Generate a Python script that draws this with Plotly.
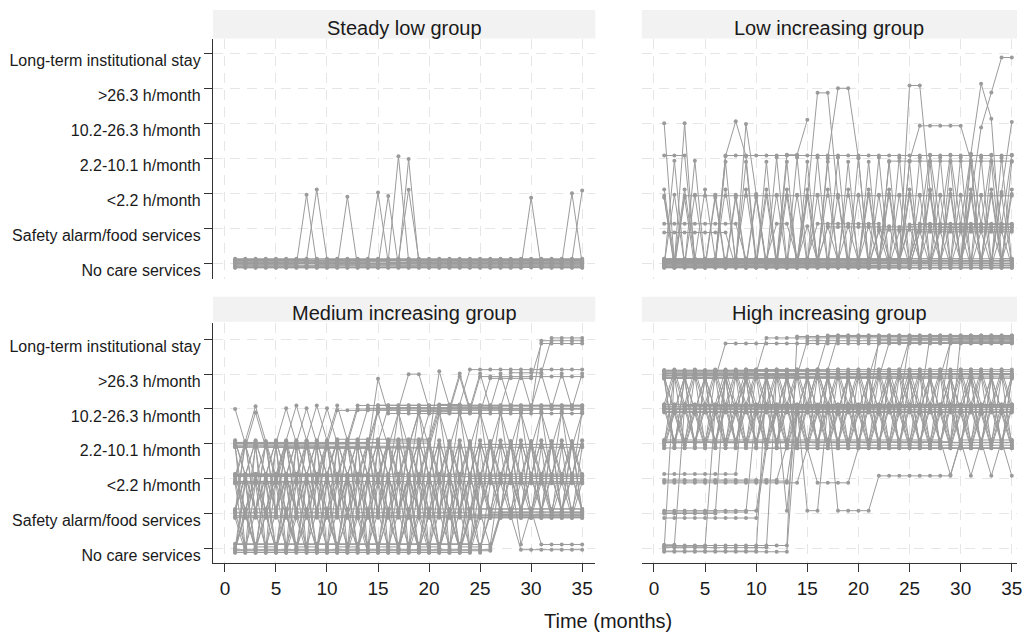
import plotly.graph_objects as go

# ---------------- data ----------------
CATEGORIES = ["No care services", "Safety alarm/food services", "<2.2 h/month",
              "2.2-10.1 h/month", "10.2-26.3 h/month", ">26.3 h/month",
              "Long-term institutional stay"]
LEVELS = [0, 1, 2, 3, 4, 5, 6]
MONTHS = list(range(1, 36))
X_TICKS = [0, 5, 10, 15, 20, 25, 30, 35]
PANEL_TITLES = ["Steady low group", "Low increasing group",
                "Medium increasing group", "High increasing group"]

# one string per person, one character per month (1..35), level index 0..6, '-' = missing
STEADY_LOW = [
    "00000 00000 00000 00000 00000 00000 00000",
    "00000 00000 00000 00000 00000 00000 00000",
    "00000 00000 00000 00000 00000 00000 00000",
    "00000 00000 00000 00000 00000 00000 00000",
    "00000 00000 00000 00000 00000 00000 00000",
    "00000 00000 00000 00000 00000 00000 00000",
    "00000 00200 00000 00000 00000 00000 00000",
    "00000 00020 00000 00000 00000 00000 00000",
    "00000 00000 02000 00000 00000 00000 00000",
    "00000 00000 00002 00000 00000 00000 00000",
    "00000 00000 00000 20000 00000 00000 00000",
    "00000 00000 00000 03000 00000 00000 00000",
    "00000 00000 00000 00300 00000 00000 00000",
    "00000 00000 00000 00200 00000 00000 00000",
    "00000 00000 00000 00000 00000 00002 00000",
    "00000 00000 00000 00000 00000 00000 00020",
    "00000 00000 00000 00000 00000 00000 00002",
]

LOW_INCREASING = [
    "40400 00000 00000 00000 00000 00000 00000",
    "33300 03333 33333 33333 33333 33333 33333",
    "20222 22222 22222 22222 22222 22222 22222",
    "11111 11100 01100 11111 11000 11111 11111",
    "11111 11000 00000 00000 00000 00000 00000",
    "00000 00000 00000 01111 11111 11111 11111",
    "00000 00000 00000 00000 01111 11111 11111",
    "00000 00000 00000 00000 00001 11111 11111",
    "00000 00000 00000 00000 00000 11111 11111",
    "00000 00000 00000 00000 00000 00111 11111",
    "00000 00000 00000 00000 00333 33333 33333",
    "00000 03430 00000 00000 00000 00000 00000",
    "00000 00042 00000 00000 00000 00000 00000",
    "00000 00000 00334 ----- ----- ----- -----",
    "00000 00000 00002 55200 00000 00000 00000",
    "00000 00000 00000 03553 00000 00000 00000",
    "00000 00000 00000 00000 00005 52000 00000",
    "00000 00000 00000 00000 00003 44444 30000",
    "00000 00000 00000 00000 00000 00000 35400",
    "00000 00000 00000 00000 00000 00000 24566",
    "00000 00000 00000 00000 00000 00000 00024",
    "02020 20202 02020 20202 02020 20202 02020",
    "20202 02020 20202 02020 20202 02020 20202",
    "00000 03030 30303 03030 30303 03030 30303",
    "00000 00000 03030 30303 03030 30303 03030",
    "00000 00000 00000 00000 01010 10101 01010",
    "00000 00000 00001 01010 10101 01010 10101",
    "00000 00000 00000 00000 20202 02020 20202",
    "00000 00000 00000 00000 00000 13131 31313",
    "20200 20202 00000 00000 00000 00000 00000",
    "00000 00000 00000 00000 00000 00000 00000",
    "00000 00000 00000 00000 00000 00000 00000",
    "03030 00000 20202 00000 00000 00000 00000",
    "00000 00000 00000 00000 00000 00000 00000",
]

MEDIUM_INCREASING = [
    "43333 33333 33444 44444 44444 44444 44444",
    "23432 32323 23232 32323 23232 32323 23232",
    "11111 11111 11111 11111 11111 11111 11111",
    "11111 11111 11111 11111 11111 11111 11111",
    "11111 11111 11111 11111 11111 11111 11111",
    "10101 01010 10101 01010 10101 01111 11111",
    "01010 10101 01010 10101 01011 11111 11111",
    "12121 21212 12121 21212 12121 21212 12121",
    "21212 12121 21212 12121 21212 12121 21212",
    "11111 21111 12111 11211 11112 11111 21111",
    "22222 22222 22222 22222 22222 22222 22222",
    "22222 22222 22222 22222 22222 22222 22222",
    "23232 32323 23232 32323 23232 32323 23232",
    "32323 23232 32323 23232 32323 23232 32323",
    "20202 02020 20202 02020 20202 22222 22222",
    "02020 20202 02020 20202 02022 22222 22222",
    "21212 22222 12222 21222 22122 22212 22222",
    "00000 00000 00000 00000 00000 01111 11111",
    "00000 00000 00000 00000 00001 11111 11111",
    "00000 00000 00000 00000 00011 11111 11111",
    "01000 10001 00010 00100 01000 11111 11111",
    "00000 00000 00000 00000 00000 01100 00000",
    "00000 00000 00000 00000 00000 02201 00000",
    "33433 33333 33333 33333 33333 33333 33333",
    "33333 43434 33344 44444 44444 44444 44444",
    "31313 13131 31313 13131 31313 13131 31313",
    "13131 31313 13131 31313 13131 31313 13131",
    "30303 03030 30303 03030 30303 33333 33333",
    "22222 34343 43444 44444 44444 44444 44444",
    "22222 33333 33335 44444 44444 44444 44444",
    "33333 33333 33334 44554 44444 44444 44444",
    "22222 22222 22222 33333 54444 44444 44444",
    "33333 33333 33333 33344 44545 55555 55555",
    "22222 22222 33333 33333 44455 55555 55555",
    "22222 22223 33333 33334 44444 55555 66666",
    "33333 33333 33333 44444 44444 44555 56666",
    "33333 33333 44444 44444 44444 44444 66666",
    "22222 22222 22224 44444 44444 44444 44444",
    "33333 33333 33334 34343 43434 34343 43434",
    "33333 33333 33333 33333 44545 45454 54545",
    "22222 22222 22222 24242 42424 24242 42424",
    "12121 21212 12121 21212 12121 21212 12121",
    "01010 10101 01010 10101 01010 11111 11111",
    "21212 12121 21212 12121 21212 12121 21212",
    "02020 20202 02020 20202 02020 22222 22222",
    "13131 31313 13131 31313 13131 31313 13131",
    "32323 23232 32323 23232 32323 23232 32323",
    "11111 11111 11111 11111 11111 11111 11111",
    "22222 22222 22222 22222 22222 22222 22222",
    "10000 01000 00100 00010 00001 11111 11111",
]

HIGH_INCREASING = [
    "55555 55555 55555 55555 55555 55555 55555",
    "55555 55555 55555 55555 55555 55555 55555",
    "54545 45454 54545 45454 54545 45454 54545",
    "45454 54545 45454 54545 45454 54545 45454",
    "55555 56666 66666 66666 66666 66666 66666",
    "55555 55555 66666 66666 66666 66666 66666",
    "55555 55555 55556 66666 66666 66666 66666",
    "55555 55555 55555 55666 66666 66666 66666",
    "55555 55555 55555 55555 55666 66666 66666",
    "55555 55555 55555 55555 55556 66666 66666",
    "53535 35353 53535 35353 53535 35353 53535",
    "44444 44444 44444 44444 44444 44444 44444",
    "44444 44444 44444 44444 44444 44444 44444",
    "43434 34343 43434 34343 43434 34343 43434",
    "34343 43434 34343 43434 34343 43434 34343",
    "44444 44444 44444 44444 46666 66666 66666",
    "44444 44444 44444 44444 44444 46666 66666",
    "44444 44444 44444 44444 44444 44466 66666",
    "44444 45454 44444 54444 44545 44444 54444",
    "33333 33333 33333 33333 33333 33333 33333",
    "33333 33333 33333 33333 33333 33333 33333",
    "35353 53535 35353 53535 35353 53535 35353",
    "33333 33333 33333 33333 33333 33323 33333",
    "00000 00000 00044 44444 44444 44444 44444",
    "00000 00000 05555 55555 55555 55555 55555",
    "00000 00000 55555 55555 55555 55555 55555",
    "00000 44444 44444 44444 44444 44444 44444",
    "05555 55555 55555 55555 55555 55555 55555",
    "00444 44444 44444 44444 44444 44444 44444",
    "11111 11111 33333 33333 33333 33333 33333",
    "11111 15555 55555 55555 55555 55555 55555",
    "11111 11111 34141 14111 12222 22223 23232",
    "22222 22222 22244 44444 44444 44444 44444",
    "22222 22255 55555 55555 55555 55555 55555",
    "22222 22222 22223 22223 33333 33333 33333",
    "11111 11114 44444 44444 44444 44444 44444",
    "22222 22222 22333 33333 33333 33333 33333",
    "55555 55555 55555 56666 66666 66666 66666",
    "44444 44444 44444 44455 56666 66666 66666",
    "44444 44444 44444 44444 44446 66666 66666",
    "55555 55555 55555 55555 55555 55566 66666",
    "33333 33333 33333 33333 33333 33336 66666",
    "45454 54545 45454 54545 45454 54545 45454",
    "34343 43434 34343 43434 34343 43434 34343",
    "53535 35353 53535 35353 53535 35353 53535",
    "43434 34343 43434 34343 43434 34343 43434",
    "00000 00000 00066 66666 66666 66666 66666",
    "54545 45454 54545 45454 54545 45454 54545",
    "44444 44444 44444 44444 44444 44444 44444",
    "55555 55555 55555 55555 55555 55555 55555",
    "33333 33333 33333 33333 33333 33333 33333",
    "34343 43434 34343 43434 34343 43434 34343",
]

# small vertical jitter per person (level units), applied cyclically
JITTER = [0.00, 0.08, -0.07, 0.13, -0.12, 0.04, -0.04, 0.11, -0.10, 0.02,
          -0.08, 0.06, -0.02, 0.10, -0.13]

GROUPS = [STEADY_LOW, LOW_INCREASING, MEDIUM_INCREASING, HIGH_INCREASING]

# ---------------- figure ----------------
W, H = 1022, 635
ML, MR, MT, MB = 213, 0, 39, 72
PW, PH = W - ML - MR, H - MT - MB

def px_x(p):
    return (p - ML) / PW

def px_y(p):
    return (H - MB - p) / PH

LINE_COLOR = "#9b9b9b"
GRID = "#e6e6e6"
AXIS = "#333333"
FONT = "Liberation Sans, Arial, sans-serif"

fig = go.Figure()

for gi, group in enumerate(GROUPS):
    xs, ys = [], []
    for pi, seq in enumerate(group):
        s = seq.replace(" ", "")
        if len(s) != len(MONTHS):
            raise ValueError(f"group {gi} person {pi} has {len(s)} months")
        j = JITTER[pi % len(JITTER)]
        for m, ch in zip(MONTHS, s):
            xs.append(m)
            ys.append(None if ch == "-" else LEVELS[int(ch)] + j)
        xs.append(None)
        ys.append(None)
    suffix = "" if gi == 0 else str(gi + 1)
    fig.add_trace(go.Scatter(
        x=xs, y=ys, mode="lines+markers",
        line=dict(color=LINE_COLOR, width=1),
        marker=dict(color=LINE_COLOR, size=4),
        connectgaps=False, showlegend=False, hoverinfo="skip",
        xaxis="x" + suffix, yaxis="y" + suffix,
    ))

xl_dom = [0, px_x(597.7)]
xr_dom = [px_x(644.5), 1]
yt_dom = [px_y(279.3), 1]
yb_dom = [0, px_y(322.7)]
xl_rng = [-1.168, 36.29]
xr_rng = [-1.186, 35.51]
yt_rng = [-0.457, 6.409]
yb_rng = [-0.422, 6.477]

grid_common = dict(showgrid=True, gridcolor=GRID, gridwidth=1, griddash="10px,7px",
                   zeroline=False)

def xaxis(domain, rng, anchor, bottom):
    d = dict(domain=domain, range=rng, anchor=anchor, tickvals=X_TICKS,
             ticktext=[str(t) for t in X_TICKS], **grid_common)
    if bottom:
        d.update(showline=True, linecolor=AXIS, linewidth=1.3, ticks="outside",
                 ticklen=8, tickwidth=1.3, tickcolor=AXIS, showticklabels=True,
                 ticklabeloverflow="allow",
                 tickfont=dict(size=19, color="#1a1a1a", family=FONT))
    else:
        d.update(showline=False, ticks="", showticklabels=False)
    return d

def yaxis(domain, rng, anchor, left):
    d = dict(domain=domain, range=rng, anchor=anchor, tickvals=LEVELS,
             ticktext=CATEGORIES, **grid_common)
    if left:
        d.update(showline=True, linecolor=AXIS, linewidth=1.3, ticks="outside",
                 ticklen=8, tickwidth=1.3, tickcolor=AXIS, showticklabels=True,
                 ticklabelshift=7,
                 tickfont=dict(size=16, color="#1a1a1a", family=FONT))
    else:
        d.update(showline=False, ticks="", showticklabels=False)
    return d

fig.update_layout(
    width=W, height=H, autosize=False,
    margin=dict(l=ML, r=MR, t=MT, b=MB, pad=0),
    paper_bgcolor="white", plot_bgcolor="white",
    font=dict(family=FONT, color="#1a1a1a"),
    xaxis=xaxis(xl_dom, xl_rng, "y", False),
    yaxis=yaxis(yt_dom, yt_rng, "x", True),
    xaxis2=xaxis(xr_dom, xr_rng, "y2", False),
    yaxis2=yaxis(yt_dom, yt_rng, "x2", False),
    xaxis3=xaxis(xl_dom, xl_rng, "y3", True),
    yaxis3=yaxis(yb_dom, yb_rng, "x3", True),
    xaxis4=xaxis(xr_dom, xr_rng, "y4", True),
    yaxis4=yaxis(yb_dom, yb_rng, "x4", False),
)

strips = [
    (xl_dom, (10, 38.5)),
    (xr_dom, (10, 38.5)),
    (xl_dom, (296.7, 321.7)),
    (xr_dom, (296.7, 321.7)),
]
shapes = []
annotations = []
for (dom, (top, bot)), title in zip(strips, PANEL_TITLES):
    shapes.append(dict(type="rect", xref="paper", yref="paper",
                       x0=dom[0], x1=dom[1], y0=px_y(bot), y1=px_y(top),
                       fillcolor="#f2f2f2", line=dict(width=0), layer="below"))
    annotations.append(dict(text=title, xref="paper", yref="paper",
                            x=(dom[0] + dom[1]) / 2 if dom[1] < 1 else px_x((644.5 + 1022) / 2),
                            y=px_y((top + bot) / 2 + 3.5), xanchor="center", yanchor="middle",
                            showarrow=False, font=dict(size=20, color="#1a1a1a", family=FONT)))

annotations.append(dict(text="Time (months)", xref="paper", yref="paper",
                        x=px_x(610), y=px_y(621), xanchor="center", yanchor="middle",
                        showarrow=False, font=dict(size=20, color="#1a1a1a", family=FONT)))

fig.update_layout(shapes=shapes, annotations=annotations)

fig.write_html("out.html")
